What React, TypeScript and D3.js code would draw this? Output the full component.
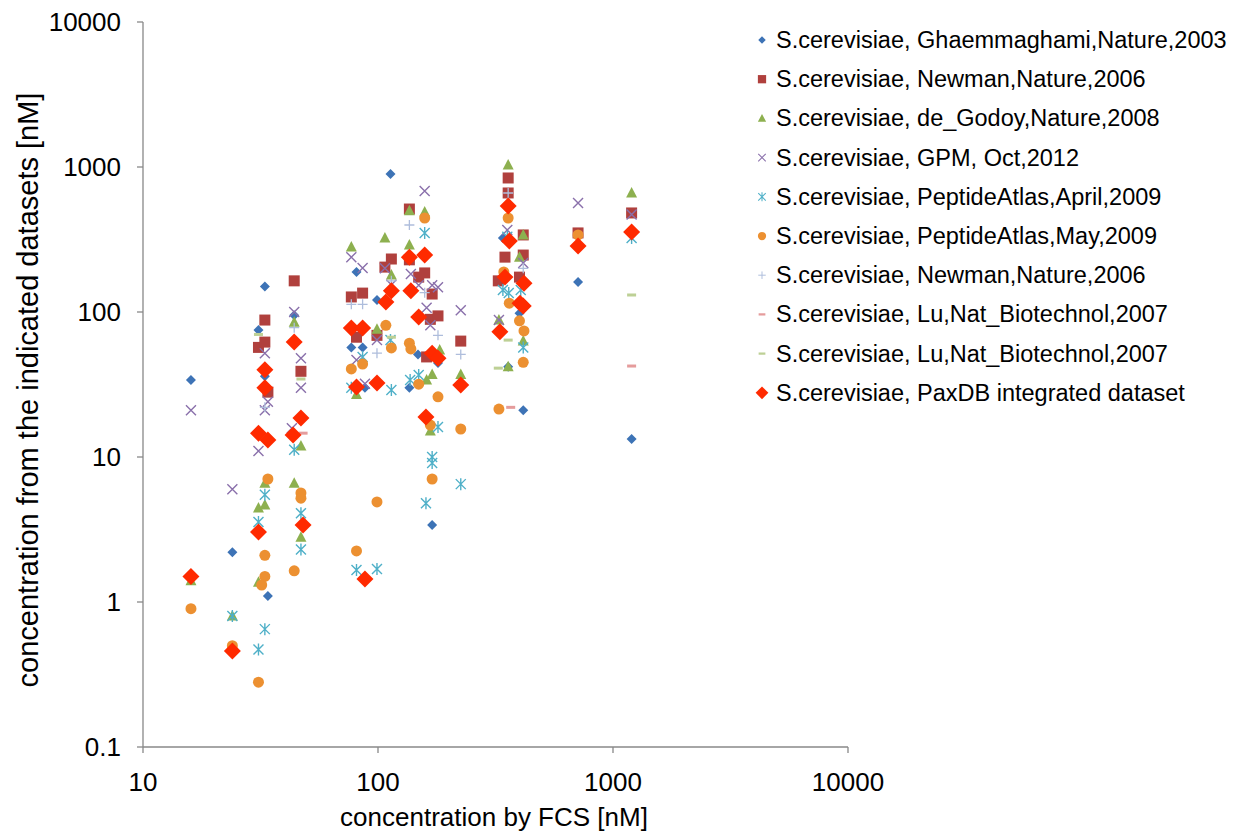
import React from "react";
import * as d3 from "d3";

// chart size and plot area (page pixels)
const W = 1247;
const H = 835;
const margin = { top: 22, right: 399, bottom: 88, left: 143 };

const xTicks = [10, 100, 1000, 10000];
const yTicks = [0.1, 1, 10, 100, 1000, 10000];
const xTitle = "concentration by FCS [nM]";
const yTitle = "concentration from the indicated datasets [nM]";

const seriesNames = [
  "S.cerevisiae, Ghaemmaghami,Nature,2003",
  "S.cerevisiae, Newman,Nature,2006",
  "S.cerevisiae, de_Godoy,Nature,2008",
  "S.cerevisiae, GPM, Oct,2012",
  "S.cerevisiae, PeptideAtlas,April,2009",
  "S.cerevisiae, PeptideAtlas,May,2009",
  "S.cerevisiae, Newman,Nature,2006",
  "S.cerevisiae, Lu,Nat_Biotechnol,2007",
  "S.cerevisiae, Lu,Nat_Biotechnol,2007",
  "S.cerevisiae, PaxDB integrated dataset",
];
const seriesColors = [
  "#3d73b6", "#b0403d", "#8db04f", "#8a70ab", "#4fb0c8",
  "#ec9031", "#aebddc", "#e59c9c", "#bdd095", "#ff2a00",
];
const seriesShapes = [
  "diamond", "square", "triangle", "cross", "asterisk",
  "circle", "plus", "dash", "dash", "bigDiamond",
];

// [FCS concentration, dataset concentration]
const ghaemmaghami = [
  [16, 34], [24, 2.2], [33, 150], [31, 75], [33, 36], [34, 1.1], [44, 95],
  [77, 57], [81, 189], [86, 57], [88, 30], [99, 121], [113, 895], [136, 30],
  [148, 51], [170, 3.4], [180, 44.5], [340, 324], [358, 42], [400, 98],
  [415, 21], [710, 161], [1200, 13.3],
];
const newman = [
  [31, 57], [33, 62], [33, 88], [34, 28], [44, 164], [47, 39], [77, 127],
  [86, 135], [81, 67], [99, 69], [107, 204], [114, 232], [136, 513],
  [136, 229], [149, 174], [158, 186], [170, 133], [167, 89], [180, 94],
  [161, 49], [225, 63], [325, 164], [347, 239], [358, 840], [358, 662],
  [400, 174], [415, 340], [415, 247], [710, 351], [1200, 482],
];
const deGodoy = [
  [16, 1.4], [24, 0.8], [31, 4.45], [33, 4.67], [33, 6.6], [31, 1.37],
  [44, 85], [44, 6.6], [47, 11.9], [47, 2.8], [77, 281], [107, 324],
  [114, 180], [99, 76], [81, 27], [136, 500], [158, 490], [136, 290],
  [183, 54.7], [161, 34], [170, 37], [167, 15.1], [225, 37], [358, 1032],
  [400, 239], [415, 340], [327, 88], [415, 63], [358, 42], [1200, 662],
];
const gpm = [
  [16, 21], [24, 6], [33, 52], [34, 24], [33, 21], [31, 11], [44, 100],
  [47, 48], [47, 30], [43, 15.8], [77, 239], [86, 201], [107, 200],
  [114, 154], [81, 46.6], [88, 32], [99, 64], [158, 683], [138, 183],
  [149, 153], [170, 153], [180, 148], [161, 107], [225, 103], [167, 81],
  [355, 368], [415, 218], [327, 88], [710, 565], [1200, 470],
];
const peptideApril = [
  [24, 0.8], [33, 5.5], [31, 3.56], [33, 0.65], [31, 0.47], [44, 11.2],
  [47, 4.1], [47, 2.3], [77, 30], [86, 49], [114, 29], [113, 64], [81, 1.66],
  [99, 1.69], [158, 351], [137, 34], [149, 36.8], [180, 16.1], [170, 10],
  [170, 9.1], [225, 6.5], [160, 4.8], [340, 142], [360, 135], [405, 142],
  [355, 330], [415, 57], [1200, 324],
];
const peptideMay = [
  [16, 0.9], [24, 0.5], [34, 7.05], [33, 2.1], [33, 1.5], [32, 1.31],
  [31, 0.28], [47, 5.65], [47, 5.2], [44, 1.64], [108, 81], [114, 56.5],
  [86, 43.8], [77, 40.5], [99, 4.9], [81, 2.25], [158, 445], [136, 61],
  [138, 55.6], [149, 31.8], [180, 26], [167, 16.6], [225, 15.6], [170, 7.05],
  [358, 445], [343, 189], [362, 115], [400, 87], [418, 74], [415, 45],
  [327, 21.4], [710, 340],
];
const newmanPlus = [
  [33, 22], [44, 78], [77, 113], [86, 113], [99, 52], [114, 164],
  [136, 398], [158, 136], [180, 69], [225, 51], [358, 662], [415, 200],
];
const luPink = [[48, 14.6], [367, 22], [1200, 42.4]];
const luGreen = [[31, 70], [47, 34.5], [114, 67], [325, 41], [358, 64], [1200, 131]];
const paxdb = [
  [16, 1.5], [24, 0.46], [33, 40], [33, 30], [31, 14.6], [34, 13.1],
  [31, 3.04], [44, 62], [47, 18.6], [43.5, 14.2], [48, 3.4], [77, 77.6],
  [86, 77.6], [81, 30.4], [99, 32.4], [114, 140], [108, 117], [88, 1.44],
  [136, 239], [158, 247], [138, 140], [149, 92.5], [170, 52], [180, 48],
  [160, 18.9], [225, 31.4], [358, 538], [362, 309], [347, 174], [418, 158],
  [402, 115], [415, 110], [330, 73], [710, 285], [1200, 356],
];

const seriesData = [
  ghaemmaghami, newman, deGodoy, gpm, peptideApril,
  peptideMay, newmanPlus, luPink, luGreen, paxdb,
];

const font = "'Liberation Sans', Arial, sans-serif";

const xScale = d3
  .scaleLog()
  .domain([10, 10000])
  .range([margin.left, W - margin.right]);
const yScale = d3
  .scaleLog()
  .domain([0.1, 10000])
  .range([H - margin.bottom, margin.top]);

const fmt = (v: number) => (v < 1 ? String(v) : d3.format("d")(v));

function Marker({ shape, color, x, y, s = 1 }: any) {
  const t = `translate(${x},${y}) scale(${s})`;
  switch (shape) {
    case "diamond":
      return <path transform={t} d="M0,-5L5,0L0,5L-5,0Z" fill={color} />;
    case "bigDiamond":
      return <path transform={t} d="M0,-8.5L8.5,0L0,8.5L-8.5,0Z" fill={color} />;
    case "square":
      return <rect transform={t} x={-5.5} y={-5.5} width={11} height={11} fill={color} />;
    case "triangle":
      return <path transform={t} d="M0,-6L5.5,4.5L-5.5,4.5Z" fill={color} />;
    case "circle":
      return <circle transform={t} r={5.5} fill={color} />;
    case "cross":
      return (
        <path transform={t} d="M-5,-5L5,5M5,-5L-5,5" stroke={color} strokeWidth={1.4} fill="none" />
      );
    case "asterisk":
      return (
        <path
          transform={t}
          d="M-5,-5L5,5M5,-5L-5,5M0,-6L0,6"
          stroke={color}
          strokeWidth={1.4}
          fill="none"
        />
      );
    case "plus":
      return (
        <path transform={t} d="M-5,0L5,0M0,-5L0,5" stroke={color} strokeWidth={1.3} fill="none" />
      );
    default:
      return <rect transform={t} x={-4.5} y={-1.5} width={9} height={3} fill={color} />;
  }
}

export default function App() {
  const x0 = margin.left;
  const x1 = W - margin.right;
  const y0 = H - margin.bottom;
  const y1 = margin.top;
  const legendX = 762;
  const legendY = 40;
  const legendStep = 39.2;

  return (
    <svg
      width={W}
      height={H}
      style={{ position: "absolute", left: 0, top: 0, background: "#fff" }}
      fontFamily={font}
    >
      {/* axes */}
      <g stroke="#888" strokeWidth={1.3}>
        <line x1={x0} x2={x1} y1={y0} y2={y0} />
        <line x1={x0} x2={x0} y1={y0} y2={y1} />
        {xTicks.map((t) => (
          <line key={"xt" + t} x1={xScale(t)} x2={xScale(t)} y1={y0} y2={y0 + 6} />
        ))}
        {yTicks.map((t) => (
          <line key={"yt" + t} x1={x0 - 6} x2={x0} y1={yScale(t)} y2={yScale(t)} />
        ))}
      </g>
      {xTicks.map((t) => (
        <text key={"xl" + t} x={xScale(t)} y={y0 + 44} fontSize={26} textAnchor="middle" fill="#000">
          {fmt(t)}
        </text>
      ))}
      {yTicks.map((t) => (
        <text key={"yl" + t} x={x0 - 22} y={yScale(t) + 9} fontSize={26} textAnchor="end" fill="#000">
          {fmt(t)}
        </text>
      ))}
      <text x={494} y={826} fontSize={26} textAnchor="middle" fill="#000">
        {xTitle}
      </text>
      <text
        transform={`translate(38,390) rotate(-90)`}
        fontSize={29}
        textAnchor="middle"
        fill="#000"
      >
        {yTitle}
      </text>

      {/* points */}
      {seriesData.map((pts, i) => (
        <g key={"s" + i}>
          {pts.map((d, j) => (
            <Marker
              key={j}
              shape={seriesShapes[i]}
              color={seriesColors[i]}
              x={xScale(d[0])}
              y={yScale(d[1])}
            />
          ))}
        </g>
      ))}

      {/* legend */}
      {seriesNames.map((name, i) => (
        <g key={"lg" + i} transform={`translate(${legendX},${legendY + i * legendStep})`}>
          <Marker shape={seriesShapes[i]} color={seriesColors[i]} x={0} y={0} s={0.75} />
          <text x={14} y={8} fontSize={23.5} fill="#000">
            {name}
          </text>
        </g>
      ))}
    </svg>
  );
}
